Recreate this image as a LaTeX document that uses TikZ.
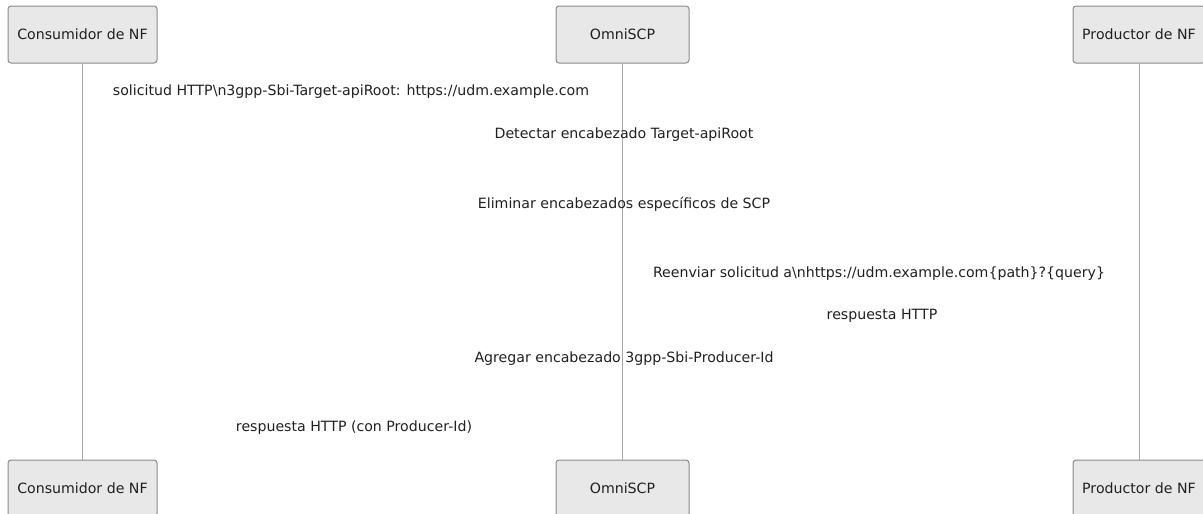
\documentclass[tikz,border=0pt]{standalone}
\usepackage{fontspec}
\setmainfont{DejaVu Sans}
\usepackage{xcolor}
\definecolor{BoxFill}{HTML}{E8E8E8}
\definecolor{BoxLine}{HTML}{8A8A8A}
\definecolor{LifeLine}{HTML}{A8A8A8}
\definecolor{Ink}{HTML}{202020}
\newcommand\bs{\textbackslash}

\begin{document}
\begin{tikzpicture}[x=1pt,y=-1pt,
  font=\fontsize{14.15}{17}\selectfont,
  party/.style={draw=BoxLine,fill=BoxFill,line width=1pt,rounded corners=3pt,
    minimum height=57pt,inner sep=0pt,text=Ink},
  msg/.style={inner sep=0pt,text=Ink},
  life/.style={draw=LifeLine,line width=1pt}]
\useasboundingbox (0,0) rectangle (1203,514);
% participants, top and bottom
\node[party,minimum width=149pt] (cons)  at (82.5,34.5)  {Consumidor de NF};
\node[party,minimum width=133pt] (scp)   at (622.5,34.5) {OmniSCP};
\node[party,minimum width=132pt] (prod)  at (1139,34.5)  {Productor de NF};
\node[party,minimum width=149pt] (consB) at (82.5,488.5)  {Consumidor de NF};
\node[party,minimum width=133pt] (scpB)  at (622.5,488.5) {OmniSCP};
\node[party,minimum width=132pt] (prodB) at (1139,488.5)  {Productor de NF};
% lifelines
\draw[life] (cons) -- (consB);
\draw[life] (scp) -- (scpB);
\draw[life] (prod) -- (prodB);
% messages
\node[msg] (m1) at (351,92)  {solicitud HTTP\bs n3gpp-Sbi-Target-apiRoot: https://udm.example.com};
\node[msg] (m2) at (624,135) {Detectar encabezado Target-apiRoot};
\node[msg] (m3) at (624,204) {Eliminar encabezados específicos de SCP};
\node[msg] (m4) at (879,274) {Reenviar solicitud a\bs nhttps://udm.example.com\{path\}?\{query\}};
\node[msg] (m5) at (882,316) {respuesta HTTP};
\node[msg] (m6) at (624,359) {Agregar encabezado 3gpp-Sbi-Producer-Id};
\node[msg] (m7) at (354,428) {respuesta HTTP (con Producer-Id)};
\end{tikzpicture}
\end{document}
